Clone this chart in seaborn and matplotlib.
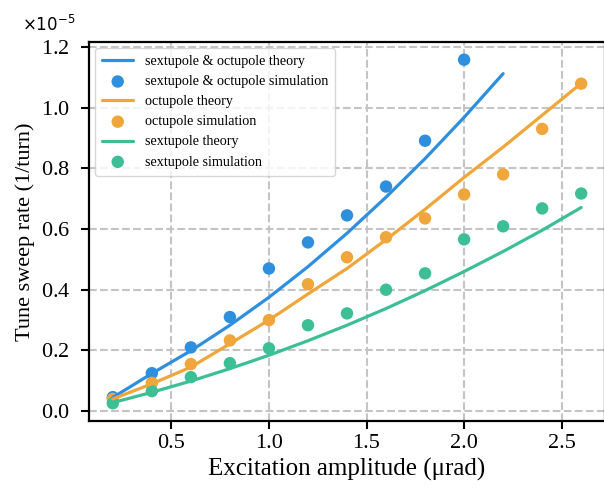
import numpy as np
import seaborn as sns
import matplotlib.pyplot as plt

# excitation amplitude (urad)
amp_sim = [0.2, 0.4, 0.6, 0.8, 1.0, 1.2, 1.4, 1.6, 1.8, 2.0, 2.2, 2.4, 2.6]
amp_both = [0.2, 0.4, 0.6, 0.8, 1.0, 1.2, 1.4, 1.6, 1.8, 2.0, 2.2]
amp_both_sim = [0.2, 0.4, 0.6, 0.8, 1.0, 1.2, 1.4, 1.6, 1.8, 2.0]

# tune sweep rate, in units of 1e-5 per turn
both_theory = [0.045, 0.124, 0.199, 0.283, 0.375, 0.476, 0.586, 0.705, 0.832, 0.968, 1.112]
both_sim = [0.046, 0.125, 0.21, 0.31, 0.47, 0.556, 0.645, 0.74, 0.891, 1.158]
oct_theory = [0.04, 0.09, 0.145, 0.222, 0.30, 0.386, 0.47, 0.565, 0.665, 0.77, 0.87, 0.975, 1.08]
oct_sim = [0.04, 0.093, 0.155, 0.233, 0.30, 0.418, 0.507, 0.573, 0.635, 0.714, 0.78, 0.93, 1.079]
sext_theory = [0.028, 0.062, 0.099, 0.140, 0.184, 0.232, 0.283, 0.338, 0.397, 0.46, 0.526, 0.596, 0.671]
sext_sim = [0.026, 0.066, 0.112, 0.158, 0.207, 0.283, 0.322, 0.40, 0.454, 0.566, 0.609, 0.668, 0.717]

c_blue = "#2e8fde"
c_orange = "#f0a63a"
c_green = "#3cbf95"

sns.set_style("whitegrid", {"grid.linestyle": "--", "grid.color": "#c4c4c4",
                            "axes.edgecolor": "black", "xtick.bottom": True,
                            "ytick.left": True, "text.color": "black",
                            "xtick.color": "black", "ytick.color": "black",
                            "axes.labelcolor": "black"})
plt.rcParams["font.family"] = ["Liberation Serif", "DejaVu Serif"]
plt.rcParams["grid.linewidth"] = 1.5

fig = plt.figure(figsize=(6.04, 4.93), dpi=100)
ax = fig.add_axes([0.148, 0.147, 0.853, 0.767])

scale = 1e-5
lw = 2.3
ms = 80
sns.lineplot(x=amp_both, y=np.array(both_theory) * scale, color=c_blue, lw=lw,
             label="sextupole & octupole theory", ax=ax)
sns.scatterplot(x=amp_both_sim, y=np.array(both_sim) * scale, color=c_blue,
                s=ms, edgecolor="none", label="sextupole & octupole simulation", ax=ax)
sns.lineplot(x=amp_sim, y=np.array(oct_theory) * scale, color=c_orange, lw=lw,
             label="octupole theory", ax=ax)
sns.scatterplot(x=amp_sim, y=np.array(oct_sim) * scale, color=c_orange,
                s=ms, edgecolor="none", label="octupole simulation", ax=ax)
sns.lineplot(x=amp_sim, y=np.array(sext_theory) * scale, color=c_green, lw=lw,
             label="sextupole theory", ax=ax)
sns.scatterplot(x=amp_sim, y=np.array(sext_sim) * scale, color=c_green,
                s=ms, edgecolor="none", label="sextupole simulation", ax=ax)

ax.set_xlim(0.08, 2.72)
ax.set_ylim(-0.031e-5, 1.215e-5)
ax.set_xticks([0.5, 1.0, 1.5, 2.0, 2.5])
ax.set_yticks(np.array([0.0, 0.2, 0.4, 0.6, 0.8, 1.0, 1.2]) * scale)
ax.ticklabel_format(axis="y", style="sci", scilimits=(0, 0), useMathText=True)
ax.yaxis.OFFSETTEXTPAD = 8
off = ax.yaxis.get_offset_text()
off.set_fontsize(12)
off.set_family("DejaVu Sans")
off.set_x(-0.131)
ax.tick_params(labelsize=16, length=6, width=1.5, color="black", direction="out")
ax.tick_params(axis="y", pad=8)
for sp in ax.spines.values():
    sp.set_linewidth(1.6)
    sp.set_color("black")

ax.set_xlabel("Excitation amplitude (\u03bcrad)", fontsize=18)
ax.set_ylabel("Tune sweep rate (1/turn)", fontsize=16)
ax.legend(loc="upper left", fontsize=10.2, frameon=True, borderaxespad=0.4,
          borderpad=0.5, handlelength=2.2, labelspacing=0.5)

fig.savefig("out.png", dpi=100)
